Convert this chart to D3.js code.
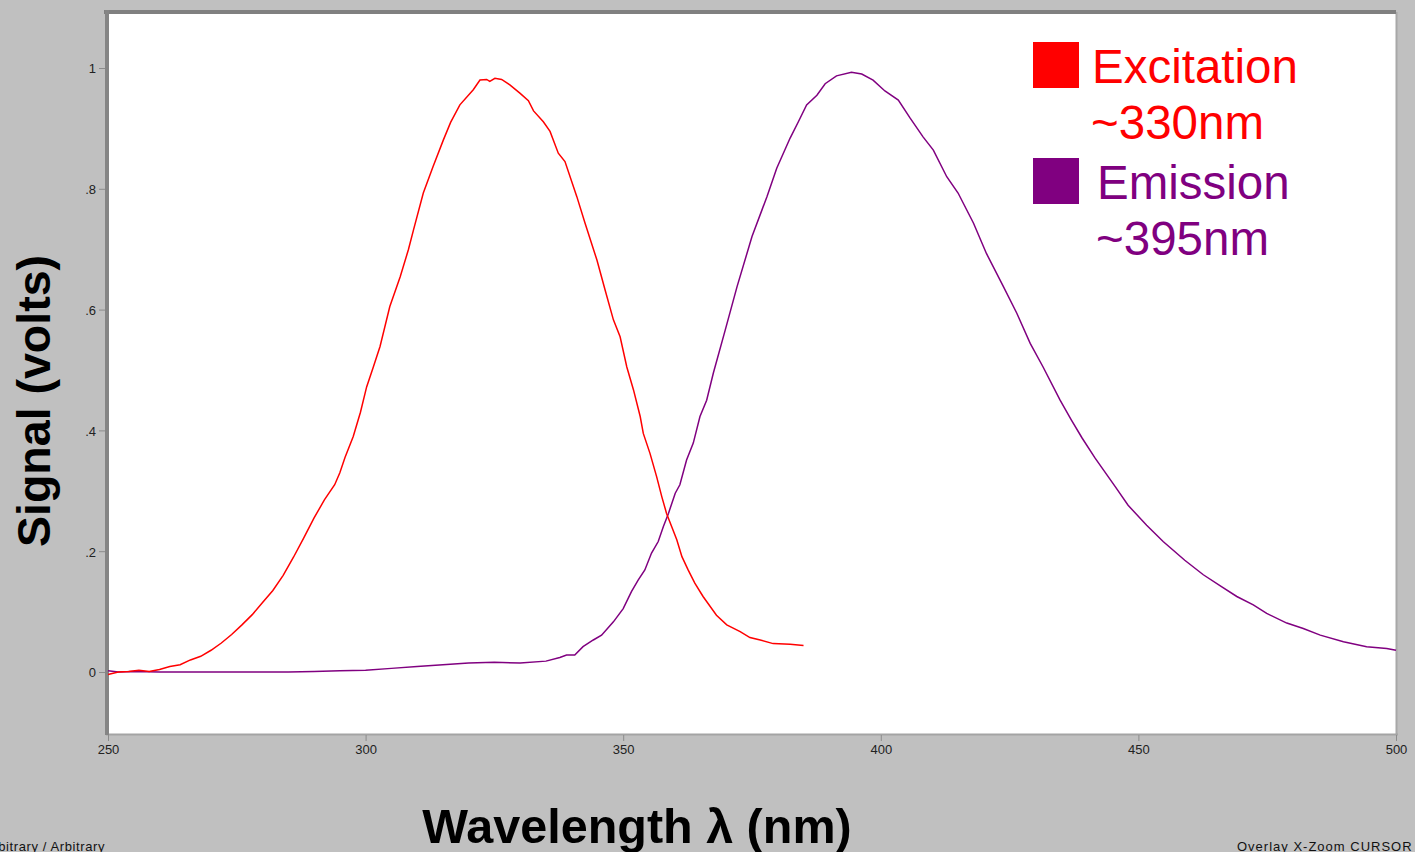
<!DOCTYPE html>
<html lang="en">
<head>
	<meta charset="UTF-8">
	<title>excitation / emission spectrum</title>
	<style>
		body { margin: 0; background: #c0c0c0; }
		svg { display: block; font-family: "Liberation Sans", Arial, sans-serif; }
	</style>
</head>
<body>

	<div id="viz-wrapper"></div>

	<script src="https://cdn.jsdelivr.net/npm/d3@7"></script>

	<script type="text/javascript">
    // excitation scan (red), wavelength in nm and signal in volts
    var excitationWl = [250, 252, 254, 256, 258, 260, 262, 264, 266, 268, 270, 272, 274, 276, 278, 280, 282, 284, 286, 288, 290, 292, 294, 295, 296, 297.6, 299, 300.2, 301.5, 302.8, 304.7, 306.7, 308.3, 309.3, 311.2, 313.1, 315.1, 316.5, 318.3, 320.9, 322.2, 323.5, 324.1, 325.1, 326.4, 328, 330, 331.6, 332.6, 334.5, 335.8, 337.4, 338.7, 341, 342.6, 344.9, 346.5, 348.1, 349.4, 350.7, 352, 353.3, 353.9, 355.2, 356.5, 357.5, 358.4, 359.4, 360.4, 361.4, 362.6, 363.9, 365.5, 368.1, 370.1, 372.7, 374.6, 376.6, 379.1, 382.4, 385];
    var excitationSignal = [-0.004, 0.0, 0.001, 0.003, 0.001, 0.004, 0.009, 0.012, 0.02, 0.026, 0.036, 0.048, 0.062, 0.078, 0.095, 0.115, 0.135, 0.16, 0.19, 0.222, 0.255, 0.285, 0.31, 0.33, 0.355, 0.39, 0.43, 0.472, 0.505, 0.539, 0.605, 0.654, 0.699, 0.732, 0.793, 0.837, 0.881, 0.91, 0.939, 0.964, 0.98, 0.981, 0.978, 0.983, 0.981, 0.972, 0.958, 0.946, 0.929, 0.911, 0.895, 0.859, 0.845, 0.787, 0.743, 0.682, 0.632, 0.583, 0.555, 0.505, 0.467, 0.423, 0.395, 0.362, 0.323, 0.29, 0.263, 0.241, 0.219, 0.191, 0.169, 0.147, 0.125, 0.094, 0.078, 0.067, 0.057, 0.053, 0.047, 0.046, 0.044];

    // emission scan (purple)
    var emissionWl = [250, 252, 255, 260, 265, 270, 275, 280, 285, 290, 295, 300, 305, 310, 315, 320, 325, 330, 335, 337.7, 339, 340.6, 342.2, 344.2, 345.8, 348.1, 350, 351.6, 352.9, 354.2, 355.5, 356.8, 357.8, 358.8, 360.1, 361, 362.3, 363.6, 364.9, 366.2, 367.5, 369.8, 372.1, 375, 377.9, 379.8, 382.4, 384, 385.6, 387.6, 389.2, 391.4, 394.3, 396.3, 398.5, 400.8, 403.4, 405.7, 408.2, 410.2, 412.8, 415, 418, 420.5, 423.8, 426.4, 429, 431.5, 434.8, 437, 439.1, 441.6, 445.5, 448, 451.6, 454.8, 459, 462.6, 466.2, 469.1, 472.3, 474.9, 478.8, 482, 485.3, 489.8, 494.3, 498.2, 500];
    var emissionSignal = [0.002, 0.0, 0.001, 0.0, 0.0, 0.0, 0.0, 0.0, 0.0, 0.001, 0.002, 0.003, 0.006, 0.009, 0.012, 0.015, 0.016, 0.015, 0.018, 0.024, 0.028, 0.028, 0.042, 0.053, 0.061, 0.083, 0.105, 0.133, 0.152, 0.169, 0.197, 0.216, 0.241, 0.263, 0.296, 0.31, 0.351, 0.379, 0.423, 0.45, 0.495, 0.566, 0.638, 0.721, 0.787, 0.834, 0.884, 0.911, 0.939, 0.955, 0.974, 0.987, 0.993, 0.99, 0.98, 0.962, 0.947, 0.917, 0.886, 0.864, 0.82, 0.793, 0.743, 0.693, 0.638, 0.594, 0.544, 0.505, 0.45, 0.417, 0.387, 0.354, 0.307, 0.276, 0.243, 0.216, 0.185, 0.161, 0.141, 0.125, 0.111, 0.097, 0.081, 0.072, 0.061, 0.05, 0.042, 0.039, 0.036];

    var xTicks = [250, 300, 350, 400, 450, 500];
    var yTicks = [0, 0.2, 0.4, 0.6, 0.8, 1];

    var legendLabels = [["Excitation", "~330nm"], ["Emission", "~395nm"]];
    var seriesColors = ["#ff0000", "#800080"];

    var width = 1415,
        height = 852;

    var svg = d3.select("#viz-wrapper")
                .append("svg")
                .attr("width", width)
                .attr("height", height);

    svg.append("rect").attr("width", width).attr("height", height).attr("fill", "#c0c0c0");

    // scales, fitted to the plot frame
    var x = d3.scaleLinear().domain([250, 500]).range([108, 1396]);
    var y = d3.scaleLinear().domain([0, 1]).range([672, 68]);

    // white plot area and its bevelled frame
    svg.append("rect")
       .attr("x", 108).attr("y", 12)
       .attr("width", 1288).attr("height", 722)
       .attr("fill", "#ffffff");
    svg.append("line").attr("x1", 1396.5).attr("x2", 1396.5).attr("y1", 12).attr("y2", 735)
       .attr("stroke", "#a8a8a8").attr("stroke-width", 2);
    svg.append("line").attr("x1", 106).attr("x2", 1398).attr("y1", 734.5).attr("y2", 734.5)
       .attr("stroke", "#a4a4a4").attr("stroke-width", 2);
    svg.append("line").attr("x1", 104).attr("x2", 1396).attr("y1", 12).attr("y2", 12)
       .attr("stroke", "#808080").attr("stroke-width", 4);
    svg.append("line").attr("x1", 107).attr("x2", 107).attr("y1", 10).attr("y2", 735)
       .attr("stroke", "#858585").attr("stroke-width", 4);

    // axes
    var fmtY = function(d) {
        if (d === 0) return "0";
        if (d === 1) return "1";
        return d3.format(".1f")(d).replace(/^0/, "");
    };

    var yAxis = svg.append("g")
                   .attr("transform", "translate(105,0)")
                   .call(d3.axisLeft(y).tickValues(yTicks).tickFormat(fmtY).tickSize(6).tickPadding(3));
    var xAxis = svg.append("g")
                   .attr("transform", "translate(0,735)")
                   .call(d3.axisBottom(x).tickValues(xTicks).tickFormat(d3.format("d")).tickSize(6).tickPadding(4));

    [xAxis, yAxis].forEach(function(ax) {
        ax.select(".domain").remove();
        ax.selectAll("line").attr("stroke", "#8c8c8c");
        ax.selectAll("text")
          .attr("fill", "#222")
          .style("font-size", "13px")
          .style("font-family", "'Liberation Sans', Arial, sans-serif");
    });
    yAxis.selectAll("text").attr("dy", "0.38em");

    // spectra: emission first so excitation sits on top
    var line = d3.line()
                 .x(function(d) { return x(d[0]); })
                 .y(function(d) { return y(d[1]); });

    var emission = d3.zip(emissionWl, emissionSignal);
    var excitation = d3.zip(excitationWl, excitationSignal);

    svg.append("path").datum(emission)
       .attr("d", line).attr("fill", "none")
       .attr("stroke", seriesColors[1]).attr("stroke-width", 1.5);
    svg.append("path").datum(excitation)
       .attr("d", line).attr("fill", "none")
       .attr("stroke", seriesColors[0]).attr("stroke-width", 1.5);

    // legend
    var legend = svg.selectAll(".legend")
                    .data(legendLabels)
                    .enter()
                    .append("g")
                    .attr("class", "legend")
                    .attr("transform", function(d, i) { return "translate(1033," + (42 + i * 116) + ")"; });

    legend.append("rect")
          .attr("width", 46).attr("height", 46)
          .attr("fill", function(d, i) { return seriesColors[i]; });
    legend.append("text")
          .attr("x", function(d, i) { return i === 0 ? 59 : 64; })
          .attr("y", 41)
          .attr("fill", function(d, i) { return seriesColors[i]; })
          .style("font-size", "47.5px")
          .text(function(d) { return d[0]; });
    legend.append("text")
          .attr("x", function(d, i) { return i === 0 ? 58 : 63; })
          .attr("y", 97)
          .attr("fill", function(d, i) { return seriesColors[i]; })
          .style("font-size", "47.5px")
          .text(function(d) { return d[1]; });

    // axis titles
    svg.append("text")
       .attr("transform", "translate(50,401) rotate(-90)")
       .attr("text-anchor", "middle")
       .style("font-size", "46.5px").style("font-weight", "bold")
       .attr("fill", "#000")
       .text("Signal (volts)");

    svg.append("text")
       .attr("x", 637).attr("y", 843)
       .attr("text-anchor", "middle")
       .style("font-size", "48.5px").style("font-weight", "bold")
       .attr("fill", "#000")
       .text("Wavelength \u03bb (nm)");

    // status-bar captions (clipped by the window edge, as in the source)
    svg.append("text")
       .attr("x", 105).attr("y", 851)
       .attr("text-anchor", "end")
       .style("font-size", "13px").style("letter-spacing", "0.6px")
       .attr("fill", "#111")
       .text("Arbitrary / Arbitrary");
    svg.append("text")
       .attr("x", 1237).attr("y", 851)
       .style("font-size", "13px").style("letter-spacing", "1px")
       .attr("fill", "#111")
       .text("Overlay X-Zoom CURSOR");
 	</script>

</body>
</html>
